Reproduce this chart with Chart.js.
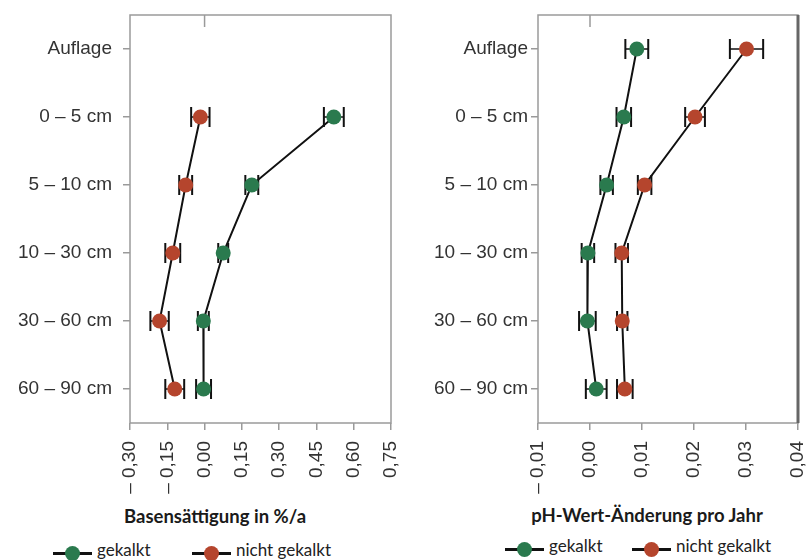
<!DOCTYPE html>
<html>
<head>
<meta charset="utf-8">
<script src="https://cdn.jsdelivr.net/npm/chart.js@4"></script>
<style>
  body { margin: 0; background: #fff; }
  #wrap { position: relative; width: 806px; height: 560px; overflow: hidden; }
  canvas { position: absolute; top: 0; }
  .title { position: absolute; font-family: Lato, "Open Sans", sans-serif; font-weight: bold; font-size: 18.5px; color: #1a1a1a; transform: translateX(-50%); white-space: nowrap; }
  .leg { position: absolute; height: 16px; }
  .leg .ln { position: absolute; left: 0; top: 7px; width: 39px; height: 2.5px; background: #111; }
  .leg .dot { position: absolute; left: 12px; top: 0.5px; width: 15px; height: 15px; border-radius: 50%; }
  .leg .txt { position: absolute; left: 44px; top: -6px; font-family: Lato, "Open Sans", sans-serif; font-size: 17px; color: #222; white-space: nowrap; }
</style>
</head>
<body>
<div id="wrap">
  <canvas id="baseChart" width="400" height="500" style="left:0"></canvas>
  <canvas id="phChart" width="406" height="500" style="left:400px"></canvas>

  <div class="title" style="left:215px; top:505px">Basensättigung in %/a</div>
  <div class="title" style="left:647px; top:504px">pH-Wert-Änderung pro Jahr</div>

  <div class="leg" style="left:53px; top:545px"><div class="ln"></div><div class="dot" style="background:#2a7a4e"></div><div class="txt">gekalkt</div></div>
  <div class="leg" style="left:192px; top:545px"><div class="ln"></div><div class="dot" style="background:#b5452d"></div><div class="txt">nicht gekalkt</div></div>
  <div class="leg" style="left:505px; top:541px"><div class="ln"></div><div class="dot" style="background:#2a7a4e"></div><div class="txt">gekalkt</div></div>
  <div class="leg" style="left:632px; top:541px"><div class="ln"></div><div class="dot" style="background:#b5452d"></div><div class="txt">nicht gekalkt</div></div>
</div>

<script>
const categories = ['Auflage', '0 – 5 cm', '5 – 10 cm', '10 – 30 cm', '30 – 60 cm', '60 – 90 cm']

// Basensättigung in %/a
const baseGekalkt = [null, 0.52, 0.19, 0.075, -0.005, -0.004]
const baseGekalktErr = [null, 0.04, 0.026, 0.02, 0.022, 0.03]
const baseNicht = [null, -0.017, -0.076, -0.128, -0.181, -0.12]
const baseNichtErr = [null, 0.037, 0.026, 0.03, 0.037, 0.038]

// pH-Wert-Änderung pro Jahr
const phGekalkt = [0.009, 0.0065, 0.0032, -0.0004, -0.0005, 0.0012]
const phGekalktErr = [0.0022, 0.0014, 0.0012, 0.0012, 0.0016, 0.002]
const phNicht = [0.0301, 0.0202, 0.0105, 0.0061, 0.0062, 0.0067]
const phNichtErr = [0.0032, 0.0019, 0.0013, 0.0012, 0.001, 0.0015]

const GREEN = '#2a7a4e'
const RED = '#b5452d'
const TICK_FONT = { family: '"Liberation Sans", Arial, sans-serif', size: 19 }

function toPoints(values, errors) {
  return categories
    .map((c, i) => ({ x: values[i], y: c, err: errors[i] }))
    .filter(p => p.x !== null)
}

function formatTick(value) {
  if (Math.abs(value) < 1e-9) return '0,00'
  const txt = Math.abs(value).toFixed(2).replace('.', ',')
  return value < 0 ? '– ' + txt : txt
}

// frame, small zero tick at the top and error bars
const frameAndErrors = {
  id: 'frameAndErrors',
  beforeDatasetsDraw(chart) {
    const { ctx, chartArea: a, scales } = chart
    const xs = scales.x, ys = scales.y
    ctx.save()
    ctx.strokeStyle = '#9a9a9a'
    ctx.lineWidth = 1.5
    ctx.strokeRect(a.left, a.top, a.right - a.left, a.bottom - a.top)
    if (chart.options.darkRight) {
      ctx.strokeStyle = '#666'
      ctx.lineWidth = 3
      ctx.beginPath()
      ctx.moveTo(a.right, a.top)
      ctx.lineTo(a.right, a.bottom)
      ctx.stroke()
    }
    const x0 = xs.getPixelForValue(0)
    ctx.strokeStyle = '#9a9a9a'
    ctx.lineWidth = 1.5
    ctx.beginPath()
    ctx.moveTo(x0, a.top)
    ctx.lineTo(x0, a.top + 12)
    ctx.stroke()

    ctx.strokeStyle = '#111'
    chart.data.datasets.forEach(ds => {
      ds.data.forEach(p => {
        if (p.err == null) return
        const y = ys.getPixelForValue(categories.indexOf(p.y))
        const xl = xs.getPixelForValue(p.x - p.err)
        const xr = xs.getPixelForValue(p.x + p.err)
        ctx.lineWidth = 1.5
        ctx.beginPath()
        ctx.moveTo(xl, y)
        ctx.lineTo(xr, y)
        ctx.stroke()
        ctx.lineWidth = 2
        ctx.beginPath()
        ctx.moveTo(xl, y - 10)
        ctx.lineTo(xl, y + 10)
        ctx.moveTo(xr, y - 10)
        ctx.lineTo(xr, y + 10)
        ctx.stroke()
      })
    })
    ctx.restore()
  }
}

function series(label, points, color) {
  return {
    label: label,
    data: points,
    showLine: true,
    borderColor: '#111',
    borderWidth: 2,
    pointRadius: 7.5,
    pointBackgroundColor: color,
    pointBorderColor: color,
    pointBorderWidth: 0
  }
}

function makeChart(canvasId, datasets, xMin, xMax, xStep, yWidth, yPad, rightPad, darkRight) {
  return new Chart(document.getElementById(canvasId), {
    type: 'scatter',
    data: { datasets: datasets },
    options: {
      responsive: false,
      animation: false,
      darkRight: darkRight,
      layout: { padding: { top: 15, right: rightPad, left: 0, bottom: 0 } },
      plugins: { legend: { display: false }, tooltip: { enabled: false } },
      scales: {
        x: {
          type: 'linear',
          min: xMin,
          max: xMax,
          afterBuildTicks: scale => {
            const ticks = []
            for (let i = 0; xMin + i * xStep <= xMax + xStep / 1000; i++) {
              ticks.push({ value: xMin + i * xStep })
            }
            scale.ticks = ticks
          },
          afterFit: scale => {
            scale.height = 77
            scale.paddingLeft = 0
            scale.paddingRight = 0
          },
          border: { display: false },
          grid: { drawOnChartArea: false, tickLength: 7, color: '#9a9a9a', lineWidth: 1.5 },
          ticks: {
            autoSkip: false,
            maxRotation: 90,
            minRotation: 90,
            padding: 11,
            color: '#333',
            font: TICK_FONT,
            callback: v => formatTick(v)
          }
        },
        y: {
          type: 'category',
          labels: categories,
          offset: true,
          afterFit: scale => {
            scale.width = yWidth
            scale.paddingTop = 0
            scale.paddingBottom = 0
          },
          border: { display: false },
          grid: { drawOnChartArea: false, tickLength: 7, color: '#9a9a9a', lineWidth: 1.5, offset: false },
          ticks: { padding: yPad, color: '#333', font: TICK_FONT }
        }
      }
    },
    plugins: [frameAndErrors]
  })
}

makeChart('baseChart', [
  series('gekalkt', toPoints(baseGekalkt, baseGekalktErr), GREEN),
  series('nicht gekalkt', toPoints(baseNicht, baseNichtErr), RED)
], -0.30, 0.75, 0.15, 130, 11, 9, false)

makeChart('phChart', [
  series('gekalkt', toPoints(phGekalkt, phGekalktErr), GREEN),
  series('nicht gekalkt', toPoints(phNicht, phNichtErr), RED)
], -0.01, 0.04, 0.01, 138, 3, 8, true)
</script>
</body>
</html>
